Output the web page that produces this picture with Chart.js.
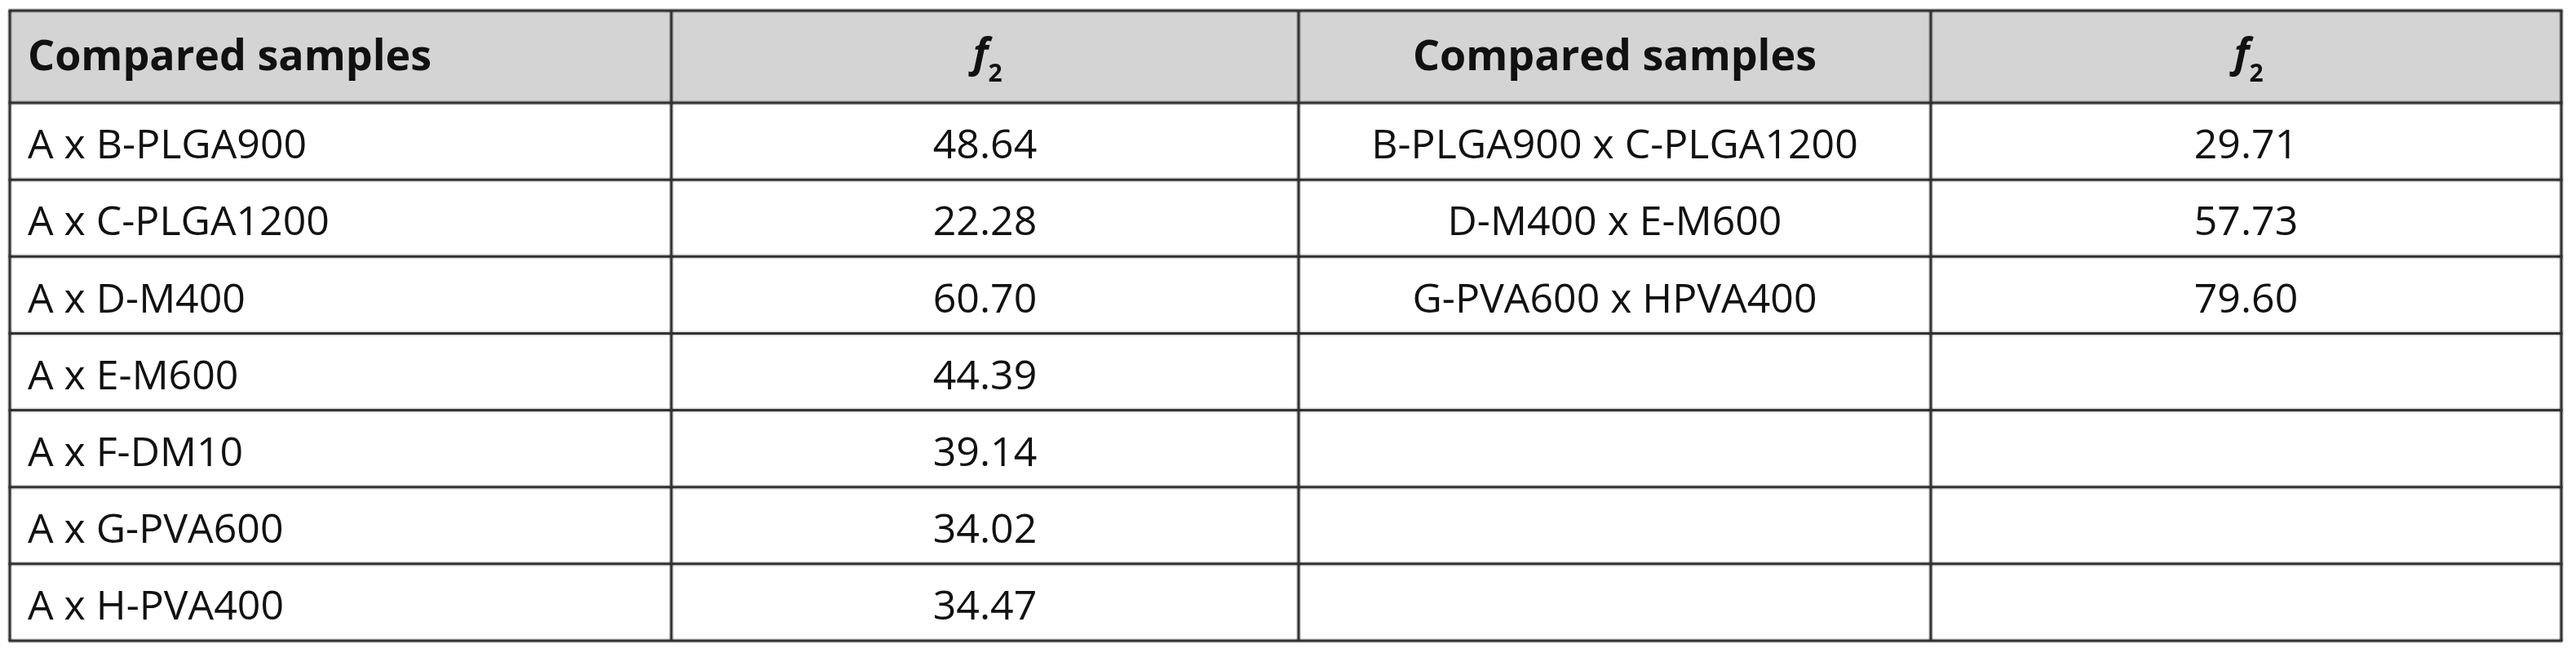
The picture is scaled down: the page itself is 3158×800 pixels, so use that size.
<!DOCTYPE html>
<html><head><meta charset="utf-8">
<script src="https://cdn.jsdelivr.net/npm/chart.js@4/dist/chart.umd.min.js"></script>
<style>html,body{margin:0;padding:0;background:#fff}#wrap{width:3158px;height:800px}</style>
</head><body><div id="wrap"><canvas id="c" width="3158" height="800"></canvas></div>
<script>
const headers = ["Compared samples", "f2", "Compared samples", "f2"];
const leftSamples = ["A x B-PLGA900","A x C-PLGA1200","A x D-M400","A x E-M600","A x F-DM10","A x G-PVA600","A x H-PVA400"];
const leftF2 = ["48.64","22.28","60.70","44.39","39.14","34.02","34.47"];
const rightSamples = ["B-PLGA900 x C-PLGA1200","D-M400 x E-M600","G-PVA600 x HPVA400","","","",""];
const rightF2 = ["29.71","57.73","79.60","","","",""];

// layout (scale units = px inside chart area)
const colEdges = [0, 811, 1580, 2355, 3128];
const headerH = 113, rowH = 94.1;
const rowEdges = [0, headerH];
for (let i = 1; i <= leftSamples.length; i++) rowEdges.push(headerH + rowH * i);
const FONT = "'Open Sans',sans-serif";

const tablePlugin = {
  id: 'table',
  afterDraw(chart) {
    const ctx = chart.ctx, X = chart.scales.x, Y = chart.scales.y;
    const px = v => X.getPixelForValue(v), py = v => Y.getPixelForValue(v);
    const nR = rowEdges.length - 1;
    ctx.save();
    ctx.fillStyle = '#d4d4d4';
    ctx.fillRect(px(colEdges[0]), py(rowEdges[0]), px(colEdges[4]) - px(colEdges[0]), py(rowEdges[1]) - py(rowEdges[0]));
    const line = (x1, y1, x2, y2) => {
      ctx.strokeStyle = 'rgba(0,0,0,0.15)'; ctx.lineWidth = 6;
      ctx.beginPath(); ctx.moveTo(x1, y1); ctx.lineTo(x2, y2); ctx.stroke();
      ctx.strokeStyle = '#333'; ctx.lineWidth = 3;
      ctx.beginPath(); ctx.moveTo(x1, y1); ctx.lineTo(x2, y2); ctx.stroke();
    };
    rowEdges.forEach(r => line(px(colEdges[0]) - 1.5, py(r), px(colEdges[4]) + 1.5, py(r)));
    colEdges.forEach(c => line(px(c), py(rowEdges[0]), px(c), py(rowEdges[nR])));
    ctx.fillStyle = '#111';
    ctx.textBaseline = 'middle';
    const hy = (py(rowEdges[0]) + py(rowEdges[1])) / 2 + 2;
    headers.forEach((h, ci) => {
      const cx = (px(colEdges[ci]) + px(colEdges[ci + 1])) / 2;
      if (h === 'f2') {
        ctx.font = `italic bold 50px ${FONT}`;
        ctx.textAlign = 'right';
        ctx.fillText('f', cx + 4, hy - 4);
        ctx.font = `bold 30px ${FONT}`;
        ctx.textAlign = 'left';
        ctx.fillText('2', cx + 4, hy + 20);
      } else {
        ctx.font = `bold 52px ${FONT}`;
        if (ci === 0) { ctx.textAlign = 'left'; ctx.fillText(h, px(colEdges[0]) + 22, hy); }
        else { ctx.textAlign = 'center'; ctx.fillText(h, cx, hy); }
      }
    });
    ctx.font = `50px ${FONT}`;
    const cols = [leftSamples, leftF2, rightSamples, rightF2];
    for (let r = 0; r < leftSamples.length; r++) {
      const y = (py(rowEdges[r + 1]) + py(rowEdges[r + 2])) / 2 + 7;
      cols.forEach((arr, ci) => {
        const t = arr[r]; if (!t) return;
        if (ci === 0) { ctx.textAlign = 'left'; ctx.fillText(t, px(colEdges[0]) + 22, y); }
        else { ctx.textAlign = 'center'; ctx.fillText(t, (px(colEdges[ci]) + px(colEdges[ci + 1])) / 2, y); }
      });
    }
    ctx.restore();
  }
};

new Chart(document.getElementById('c'), {
  type: 'scatter',
  data: { datasets: [{ data: [], showLine: false }] },
  options: {
    responsive: false, animation: false, devicePixelRatio: 1,
    layout: { padding: { left: 12, right: 18, top: 13, bottom: 15 } },
    plugins: { legend: { display: false }, tooltip: { enabled: false } },
    scales: {
      x: { type: 'linear', min: colEdges[0], max: colEdges[4], display: false },
      y: { type: 'linear', min: 0, max: rowEdges[rowEdges.length - 1], reverse: true, display: false }
    }
  },
  plugins: [tablePlugin]
});
</script></body></html>
